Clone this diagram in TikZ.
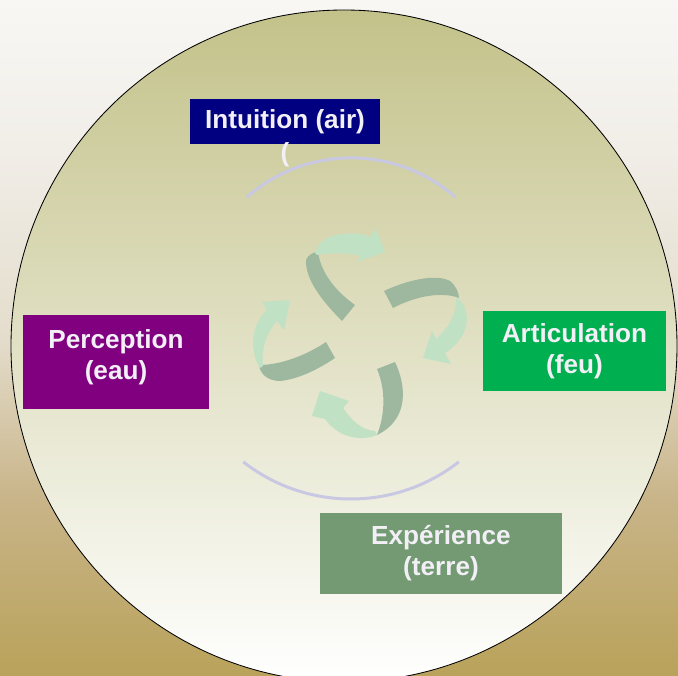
\documentclass[tikz,border=0pt]{standalone}
\usepackage{fontspec}
\setmainfont{Liberation Sans}
\usetikzlibrary{positioning}

\definecolor{bgtop}{HTML}{F8F7F4}
\definecolor{bghigh}{HTML}{F1EEE8}
\definecolor{bgmid}{HTML}{E4DDCC}
\definecolor{bglow}{HTML}{C8B488}
\definecolor{bgbot}{HTML}{B9A25A}
\definecolor{disctop}{HTML}{C3C28A}
\definecolor{intucol}{HTML}{000080}
\definecolor{perccol}{HTML}{800080}
\definecolor{articol}{HTML}{00B050}
\definecolor{expecol}{HTML}{739A72}
\definecolor{txtcol}{HTML}{F2F0F6}
\definecolor{banddark}{HTML}{9DB89F}
\definecolor{bandlight}{HTML}{C0E1C4}
\definecolor{arccol}{HTML}{C9C8E3}

\pgfdeclareverticalshading{bgshade}{100bp}{color(0bp)=(bgbot); color(25bp)=(bgbot);
  color(38bp)=(bglow); color(50bp)=(bgmid); color(64bp)=(bghigh);
  color(75bp)=(bgtop); color(100bp)=(bgtop)}

\tikzset{box/.style={rectangle,inner sep=0pt,text=txtcol,align=center,
    font=\bfseries\fontsize{18.6}{22}\selectfont}}
\tikzset{darkband/.style={fill=banddark},lightband/.style={fill=bandlight}}
\tikzset{guide/.style={draw=arccol,line width=0.075cm}}

\begin{document}
\begin{tikzpicture}[x=0.025cm,y=-0.025cm]
    % background and disc
    \shade[shading=bgshade] (0,0) rectangle (678,676);
    \useasboundingbox (0,0) rectangle (678,676);
    \begin{scope}
        \clip (0,0) rectangle (678,676);
        \shade[top color=disctop,bottom color=white,draw=black,line width=0.6pt]
            (344,346) ellipse [x radius=333,y radius=336];
    \end{scope}

    % guide arcs
    \draw[guide] (247,197) arc[start angle=228.8,end angle=311.2,radius=158];
    \draw[guide] (243.3,461.9) arc[start angle=128,end angle=52,radius=175];

    % top arrow
    \fill[darkband] (342,321) .. controls (324,303) and (305,280) .. (306,260)
        .. controls (308,255) and (313,252) .. (318,252)
        .. controls (321,272) and (334,290) .. (355,305) -- cycle;
    \fill[lightband] (315,253) .. controls (320,237) and (335,232) .. (362,234)
        -- (370,237) -- (376,229) -- (385,252) -- (356,262) -- (361,256)
        .. controls (345,252) and (328,253) .. (317,255) -- cycle;

    % right arrow
    \fill[darkband] (384,291) .. controls (405,281) and (435,273) .. (450,281)
        .. controls (455,285) and (459,292) .. (459,298)
        .. controls (452,295) and (440,294) .. (428,296)
        .. controls (415,298) and (400,304) .. (393,308) -- cycle;
    \fill[lightband] (456,297) .. controls (471,308) and (473,335) .. (445,353)
        -- (451,364) -- (423,358) -- (432,331) -- (436,339)
        .. controls (450,326) and (457,312) .. (456,299) -- cycle;

    % bottom arrow
    \fill[darkband] (377,369) -- (395,362) .. controls (406,385) and (410,419) .. (377,435)
        .. controls (385,415) and (386,390) .. (377,369) -- cycle;
    \fill[lightband] (377,435) .. controls (360,442) and (338,437) .. (325,419)
        -- (312,416) -- (320,391) -- (349,401) -- (343,408)
        .. controls (353,422) and (362,430) .. (375,431) -- cycle;

    % left arrow
    \fill[darkband] (326,342) .. controls (305,356) and (280,365) .. (259,365)
        .. controls (260,374) and (268,381) .. (280,381)
        .. controls (300,379) and (320,368) .. (335,358) -- cycle;
    \fill[lightband] (260,368) .. controls (249,350) and (251,325) .. (267,310)
        -- (262,302) -- (290,300) -- (284,330) -- (277,321)
        .. controls (266,333) and (261,350) .. (263,366) -- cycle;

    % the four elements
    \node[box,fill=intucol,minimum width=4.725cm,minimum height=1.1cm]
        (intuition) at (285,121.5) {Intuition (air)};
    \node[box] (paren) [below=-0.05cm of intuition] {(};
    \node[box,fill=perccol,minimum width=4.65cm,minimum height=2.35cm]
        (perception) at (116,362) {};
    \node[box] (perceptiontext) at ([yshift=0.13cm]perception.center) {Perception\\(eau)};
    \node[box,fill=articol,minimum width=4.575cm,minimum height=2cm]
        (articulation) at (574.5,351) {Articulation\\(feu)};
    \node[box,fill=expecol,minimum width=6.05cm,minimum height=2.025cm]
        (experience) at (441,553.5) {Expérience\\(terre)};
\end{tikzpicture}
\end{document}
